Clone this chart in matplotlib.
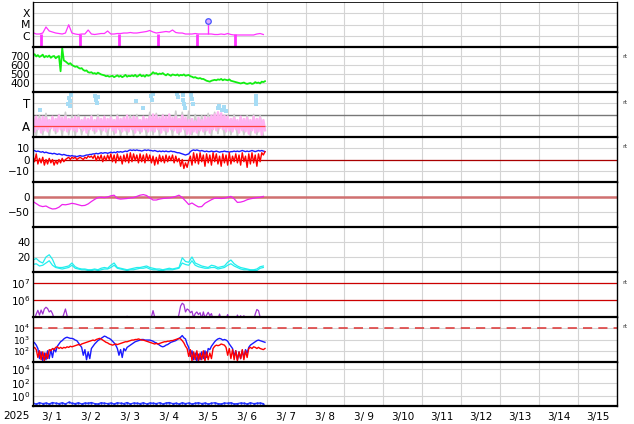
import numpy as np
import matplotlib
matplotlib.use("Agg")
import matplotlib.pyplot as plt
from matplotlib.ticker import NullLocator, FixedLocator

plt.rcParams['font.family'] = ['DejaVu Sans']

# ---- data (days since 2025-03-01 00UT) ----
# GOES X-ray, 2h steps, units of 1e-6 W/m2
xray = [1.87, 1.43, 1.43, 1.75, 6.0, 2.64, 2.15, 1.75, 1.58, 1.43, 1.75, 9.5,
        1.75, 1.43, 1.29, 1.43, 1.43, 3.24, 1.43, 1.29, 1.43, 1.58, 1.58, 2.64,
        1.43, 1.43, 1.58, 1.58, 1.75, 1.75, 1.94, 1.75, 1.75, 1.94, 2.15, 2.39,
        2.93, 2.15, 1.75, 1.94, 2.15, 2.39, 2.15, 3.24, 1.94, 1.75, 1.75, 1.43,
        1.43, 1.43, 1.58, 1.43, 1.43, 1.43, 1.43, 1.43, 1.29, 1.29, 1.43, 1.29,
        1.58, 1.29, 1.17, 1.17, 1.17, 1.17, 1.17, 1.17, 1.17, 1.43, 1.58, 1.29]
xray_gaps = [0.2, 1.2, 2.2, 3.2, 4.2, 5.2]
flare_day = 4.49
flare_peak = 2.0e-5

# solar wind speed, hourly (km/s)
speed = [705, 720, 695, 710, 690, 700, 715, 685, 700, 690, 705, 680, 695, 700, 675, 690, 700,
         530, 790,
         650, 640, 625, 610, 620, 600, 590, 580, 585, 570, 560, 565, 545, 535, 540, 520, 515, 520,
         505, 510, 500, 515, 505, 495, 490, 485, 475, 480, 470, 475,
         480, 465, 475, 485, 470, 480, 465, 475, 490, 470, 480, 475,
         485, 475, 490, 470, 480, 495, 475, 485, 470, 490, 480, 485,
         500, 520, 505, 510, 495, 505, 500, 510,
         495, 485, 500, 490, 480, 495, 490, 485, 495, 480, 490, 485, 495, 480, 485, 490,
         475, 470, 460, 465, 455, 450, 455, 445,
         445, 435, 425, 420, 415, 425, 430, 435,
         430, 440, 435, 445, 430, 440, 435, 430, 440, 425, 420, 415,
         410, 405, 400, 395, 400, 405, 395, 390, 395, 400, 390, 395,
         410, 400, 405, 395, 415, 410, 420]

# plasma panel (T / A index), hourly pink, 2h gray
plasma_a = [1.7, 0.5, 1.8, 0.7, 1.6, 0.4, 1.8, 0.6, 1.7, 0.5, 1.5, 0.8, 1.8, 0.6, 1.6, 0.5, 1.9, 0.7, 1.7, 0.6, 1.8, 0.5, 1.6, 0.7,
            1.6, 0.6, 1.8, 0.5, 1.7, 0.8, 1.5, 0.6, 1.7, 0.4, 1.6, 0.7, 1.8, 0.6, 1.5, 0.5, 1.7, 0.7, 1.6, 0.6, 1.8, 0.5, 1.6, 0.8,
            1.7, 0.6, 1.5, 0.4, 1.8, 0.7, 1.6, 0.5, 1.7, 0.6, 1.9, 0.5, 1.6, 0.7, 1.8, 0.4, 1.7, 0.6, 1.5, 0.5, 1.8, 0.7, 1.6, 0.5,
            1.8, 0.6, 2.0, 0.5, 1.9, 0.7, 1.7, 0.4, 1.9, 0.6, 1.8, 0.5, 2.0, 0.7, 1.7, 0.6, 1.8, 0.4, 1.6, 0.5, 1.9, 0.7, 1.7, 0.3,
            1.5, 0.3, 1.6, 0.5, 1.4, 0.4, 1.7, 0.6, 1.5, 0.5, 1.8, 0.6, 1.7, 0.4, 1.9, 0.7, 2.0, 0.6, 2.2, 0.8, 2.1, 0.7, 1.9, 0.5,
            1.8, 0.6, 1.6, 0.5, 1.7, 0.7, 1.5, 0.4, 1.8, 0.6, 1.6, 0.5, 1.7, 0.3, 1.5, 0.6, 1.8, 0.4, 1.6, 0.5, 1.7, 0.2, 1.5, 0.6]
plasma_gray = [2.0, 0.1, 1.9, 0.2, 2.1, 0.1, 1.8, 0.3, 2.0, 0.1, 2.2, 0.2, 1.9, 0.1, 2.0, 0.2, 1.8, 0.1,
               1.9, 0.3, 2.0, 0.2, 1.8, 0.1, 1.9, 0.2, 2.0, 0.1, 1.8, 0.2, 1.9, 0.1, 2.0, 0.3, 1.8, 0.1,
               2.2, 0.2, 2.1, 0.1, 2.0, 0.2, 1.9, 0.1, 2.3, 0.2, 2.2, 0.1, 2.3, 0.2, 2.0, 0.1, 1.9, 0.2,
               2.1, 0.1, 2.2, 0.3, 2.0, 0.1, 1.9, 0.2, 2.0, 0.1, 1.8, 0.2, 1.9, 0.1, 2.0, 0.2, 1.9, 0.1]
plasma_t_days = [0.18, 0.90, 0.92, 0.95, 0.95, 0.97, 1.59, 1.62, 1.64, 1.67, 2.64, 2.82, 3.03, 3.05, 3.08,
                 3.69, 3.72, 3.85, 3.85, 3.87, 3.90, 4.05, 4.08, 4.10, 4.74, 4.79, 4.85, 4.90, 4.95,
                 5.72, 5.74, 5.74]
plasma_t_vals = [2.4, 2.93, 3.47, 2.76, 3.2, 3.73, 3.64, 3.29, 3.02, 3.56, 3.2, 2.58, 3.64, 3.29, 3.82,
                 3.82, 3.56, 3.73, 3.29, 2.93, 2.58, 3.73, 3.38, 2.93, 2.58, 2.76, 2.4, 2.67, 2.31,
                 3.64, 3.29, 2.93]

# IMF Bt / Bz, hourly (nT)
bt = [7.5, 8, 7, 7.5, 7, 6.5, 7, 6, 6.5, 6, 5.5,
      5.5, 5, 5.5, 5, 4.5, 5, 4.5, 4, 4.5, 4,
      3.5, 3.5, 3, 3.5, 3, 3, 2.5, 3, 3.5, 3, 3, 3.5, 4, 4, 4.5, 4.5,
      5, 5, 5.5, 5, 5.5, 6, 5.5, 6, 6, 5.5, 6, 6.5,
      6, 6.5, 6, 7, 6.5, 7, 6.5, 7, 7.5, 7, 8, 8.5,
      8, 8.5, 8, 8.5, 8, 8, 7.5, 8, 8.5, 8, 8.5, 8,
      8, 7.5, 8, 7.5, 7, 7.5, 7, 7.5, 7, 7.5, 7, 7, 7.5, 7, 7, 6.5,
      6, 6, 5.5, 5, 4.5, 4, 4.5, 5,
      7, 8, 8.5, 8, 8.5, 8, 7.5, 8, 7.5, 7, 7.5, 7,
      7, 7.5, 7, 7, 7.5, 7, 6.5, 7, 7, 7.5, 7, 7, 6.5, 7, 7, 7.5,
      7, 7.5, 7, 7.5, 8, 7.5, 7, 7.5, 7, 7.5, 8, 7.5, 7, 7.5, 8, 7.5, 8, 7.5, 7]
bz = [3, -2, 5, -4, 1, -3, 2, -5, 0, -4, 1,
      -3, 0, -5, -1, -4, 0, -3, 1, -2, 0,
      1, 2, 0, 2, 1, 2, 0, 1, 2, 1, 0, 2, 1, 3, 2, 3,
      1, 4, -1, 3, 0, 4, -2, 3, -1, 4, 0, 5,
      -2, 4, -3, 5, -1, 3, -4, 4, -2, 5, -3, 6,
      -2, 5, -1, 4, -3, 5, -2, 4, -3, 5, -1, 4,
      -3, 3, -5, 2, -4, 4, -2, 3, -3, 4, -2, 3, -1, 4, -3, 3,
      -2, 1, -6, 0, -8, -3, -7, -1,
      3, -5, 6, -3, 5, -4, 6, -2, 4, -6, 5, -3,
      4, -5, 6, -2, 5, -4, 3, -6, 5, -3, 4, -5, 6, -4, 3, -2,
      5, -3, 4, -5, 6, -2, 3, -7, 5, -4, 6, -3, 4, -6, 5, -2, 6, 4, 7]

# Dst, 2h steps (nT)
dst = [-15, -22, -29, -32, -30, -36, -40, -39, -34, -25, -26, -24,
       -21, -23, -26, -29, -28, -23, -15, -8, -2, -1, -2, 0,
       4, 6, -5, -7, -6, -5, -3, -2, 2, 6, 8, 5,
       -3, -10, -10, -7, -5, -4, -3, -1, 2, 6, -2, -13,
       -25, -20, -27, -33, -32, -21, -15, -9, -4, -4, -5, -4,
       -1, 2, -6, -18, -17, -14, -9, -6, -4, -2, -1, 2]

# index panel, two stations, 2h steps
idx_a = [16, 18, 14, 12, 20, 23, 17, 7, 6, 6, 7, 8,
         12, 7, 5, 4, 4, 3, 3, 4, 3, 5, 6, 5,
         9, 12, 6, 5, 4, 3, 4, 5, 6, 6, 7, 8,
         6, 5, 4, 4, 3, 4, 5, 4, 5, 6, 19, 14,
         13, 20, 12, 10, 8, 7, 6, 9, 8, 6, 7, 8,
         13, 16, 11, 8, 6, 5, 4, 3, 3, 4, 7, 8]
idx_b = [10, 11, 8, 9, 12, 15, 9, 6, 5, 4, 5, 6,
         9, 5, 4, 3, 3, 2, 2, 3, 2, 3, 4, 4,
         6, 9, 5, 4, 3, 2, 3, 3, 4, 5, 5, 6,
         4, 3, 3, 2, 2, 3, 3, 3, 4, 5, 12, 10,
         9, 15, 9, 7, 6, 5, 5, 6, 6, 4, 5, 6,
         9, 11, 8, 6, 4, 3, 3, 2, 2, 2, 5, 6]

# electrons, hourly, units of 1e5
elec = [0.6, 0.8, 1.5, 2.5, 1.3, 2.6, 1.5, 3.0, 3.8, 3.2, 2.0, 2.4, 1.6, 0.8, 0.6, 0.6, 0.6, 0.6, 0.8, 1.5, 3.0, 1.2, 0.6, 0.6,
        0.6, 0.6, 0.6, 0.6, 0.6, 0.6, 0.6, 0.6, 0.6, 0.6, 0.6, 0.6, 0.6, 0.6, 0.6, 0.6, 0.6, 0.6, 0.6, 0.6, 0.6, 0.6, 0.6, 0.6,
        0.6, 0.6, 0.6, 0.6, 0.6, 0.6, 0.6, 0.6, 0.6, 0.6, 1.1, 0.6, 0.6, 0.6, 0.6, 0.6, 0.6, 0.6, 0.6, 0.6, 0.6, 0.6, 0.6, 0.6,
        0.6, 1.0, 2.4, 1.0, 0.6, 0.6, 0.6, 0.6, 0.6, 0.6, 0.6, 0.6, 0.6, 0.6, 0.6, 0.6, 0.6, 0.6, 1.5, 4.5, 6.6, 5.5, 2.0, 3.0,
        2.6, 1.8, 2.2, 0.9, 1.6, 2.0, 1.4, 1.8, 0.8, 2.0, 0.9, 1.3, 1.9, 1.2, 1.6, 0.7, 0.6, 0.6, 0.8, 1.5, 0.7, 0.6, 0.6, 0.8,
        1.4, 0.7, 0.6, 0.6, 0.6, 0.6, 1.3, 0.8, 1.2, 0.7, 1.2, 0.6, 0.6, 0.6, 0.6, 0.6, 0.6, 1.5, 2.8, 2.4, 1.0, 0.6, 0.6, 0.6]

# particle flux, hourly, log10 values
flux_blue = [2.8, 2.7, 2.5, 2.2, 1.3, 1.9, 1.1, 1.8, 1.2, 2.0, 1.3, 2.1, 1.4, 2.2, 1.9, 2.4, 2.6, 2.8, 2.9, 3.05, 3.15, 3.2, 3.15, 3.1,
             3.1, 3.05, 2.95, 2.9, 2.7, 2.5, 2.3, 1.6, 2.1, 1.2, 1.9, 1.3, 2.2, 2.4, 2.6, 2.75, 2.9, 3.0, 3.1, 3.2, 3.3, 3.25, 3.15, 3.1,
             3.0, 2.85, 2.7, 2.5, 2.2, 1.6, 2.1, 1.4, 2.2, 2.0, 2.3, 2.4, 2.5, 2.6, 2.7, 2.8, 2.85, 2.9, 2.95, 3.0, 3.0, 2.95, 2.95, 2.95,
             2.95, 2.9, 2.85, 2.75, 2.7, 2.6, 2.5, 2.4, 2.35, 2.4, 2.5, 2.55, 2.65, 2.75, 2.8, 2.85, 2.9, 3.0, 3.1, 3.2, 3.35, 3.15, 3.05, 2.6,
             2.3, 1.5, 2.0, 1.2, 1.8, 1.1, 1.7, 1.2, 1.9, 1.3, 2.0, 1.4, 2.2, 2.1, 2.4, 2.6, 2.8, 2.95, 3.05, 3.1, 3.05, 2.95, 3.0, 2.95,
             2.85, 2.6, 2.4, 2.2, 1.5, 2.0, 1.2, 1.9, 1.3, 2.0, 1.4, 2.1, 1.8, 2.3, 2.5, 2.6, 2.7, 2.8, 2.9, 2.95, 2.9, 2.85, 2.8, 2.75]
flux_red = [2.2, 2.3, 2.1, 1.4, 2.0, 1.2, 1.9, 1.1, 1.8, 1.3, 2.1, 2.0, 2.2, 2.1, 2.3, 2.35, 2.2, 2.3, 2.2, 2.3, 2.25, 2.35, 2.3, 2.4,
            2.35, 2.4, 2.45, 2.5, 2.55, 2.5, 2.6, 2.65, 2.7, 2.75, 2.8, 2.85, 2.9, 2.95, 2.9, 3.0, 3.05, 3.1, 3.05, 2.95, 2.85, 2.75, 2.7, 2.6,
            2.55, 2.5, 2.55, 2.6, 2.55, 2.6, 2.65, 2.7, 2.75, 2.8, 2.8, 2.85, 2.9, 2.95, 2.95, 3.0, 3.0, 3.05, 3.0, 2.95, 2.95, 2.9, 2.85, 2.8,
            2.75, 2.7, 2.65, 2.6, 2.65, 2.6, 2.65, 2.7, 2.75, 2.8, 2.8, 2.85, 2.85, 2.9, 2.9, 2.95, 3.0, 3.05, 3.1, 3.05, 2.9, 2.7, 2.4, 2.2,
            1.5, 2.1, 1.1, 1.9, 1.2, 2.0, 1.1, 1.8, 1.2, 2.0, 1.1, 1.9, 1.2, 1.8, 1.3, 2.2, 2.4, 2.5, 2.45, 2.5, 2.6, 2.55, 2.5, 2.3,
            1.6, 2.2, 1.3, 2.1, 1.2, 2.0, 1.1, 1.9, 1.3, 2.1, 1.2, 2.0, 1.4, 2.2, 2.3, 2.2, 2.35, 2.3, 2.2, 2.3, 2.2, 2.15, 2.1, 2.2]

# bottom panel, 2h steps
low_flux = [0.10, 0.08, 0.12, 0.09, 0.11, 0.08, 0.13, 0.10, 0.09, 0.12, 0.08, 0.14,
            0.10, 0.09, 0.12, 0.08, 0.11, 0.10, 0.13, 0.09, 0.08, 0.12, 0.10, 0.09,
            0.11, 0.08, 0.12, 0.10, 0.09, 0.13, 0.08, 0.11, 0.10, 0.09, 0.12, 0.08,
            0.11, 0.10, 0.09, 0.12, 0.08, 0.11, 0.13, 0.09, 0.10, 0.08, 0.12, 0.09,
            0.11, 0.08, 0.10, 0.12, 0.09, 0.11, 0.08, 0.10, 0.12, 0.09, 0.08, 0.11,
            0.10, 0.12, 0.08, 0.09, 0.11, 0.10, 0.08, 0.12, 0.09, 0.10, 0.11, 0.09]

day_labels = [f"3/{d:2d}" for d in range(1, 16)]


def hours(vals, step):
    return np.arange(len(vals)) * step / 24.0


# ---- layout ----
W, H = 634, 424
fig = plt.figure(figsize=(W / 100, H / 100), dpi=100)
edges = [2, 47, 92, 137, 182, 227, 272, 317, 362, 406]
axes = []
for i in range(9):
    y0, y1 = edges[i], edges[i + 1]
    ax = fig.add_axes([33 / W, 1 - y1 / H, (617 - 33) / W, (y1 - y0) / H])
    ax.set_xlim(0, 15)
    ax.set_xticks(np.arange(0, 16))
    ax.xaxis.set_minor_locator(NullLocator())
    ax.tick_params(axis='x', which='both', length=0, labelbottom=False)
    ax.tick_params(axis='y', which='both', length=0, labelsize=7.5, pad=2)
    ax.grid(True, axis='both', color='#d4d4d4', lw=0.8)
    ax.set_axisbelow(True)
    for s in ('left', 'right'):
        ax.spines[s].set_linewidth(1.0)
    ax.spines['top'].set_linewidth(1.6 if i > 0 else 0.6)
    ax.spines['bottom'].set_visible(i == 8)
    ax.spines['bottom'].set_linewidth(1.6)
    axes.append(ax)

(ax_x, ax_v, ax_p, ax_b, ax_d, ax_k, ax_e, ax_f, ax_l) = axes

# X-ray
t = hours(xray, 2)
ax_x.set_yscale('log')
ax_x.set_ylim(1e-7, 1e-3)
ax_x.plot(t, np.array(xray) * 1e-6, color='#ff33ff', lw=0.9)
ax_x.vlines(xray_gaps, 1e-8, 1.4e-6, color='#ff33ff', lw=2)
ax_x.vlines(flare_day, 1.4e-6, flare_peak, color='#ff33ff', lw=1)
ax_x.plot([flare_day], [flare_peak], 'o', ms=4, mfc='#ddaaff', mec='#4455ff', mew=0.9)
ax_x.yaxis.set_major_locator(FixedLocator([1e-6, 1e-5, 1e-4]))
ax_x.yaxis.set_minor_locator(NullLocator())
ax_x.set_yticklabels(['C', 'M', 'X'], fontsize=7.8)

# speed
ax_v.set_ylim(300, 800)
ax_v.set_yticks([400, 500, 600, 700])
ax_v.plot(hours(speed, 1), speed, color='#11ee11', lw=1.3)

# plasma
ax_p.set_ylim(0, 4)
ax_p.set_yticks([1, 3])
ax_p.set_yticklabels(['A', 'T'], fontsize=8.5)
ax_p.axhline(2, color='#777777', lw=1)
ax_p.plot(hours(plasma_gray, 2), plasma_gray, color='#cccccc', lw=1.2)
ax_p.plot(hours(plasma_a, 1), plasma_a, color='#ffb3f2', lw=1.8)
ax_p.scatter(plasma_t_days, plasma_t_vals, s=7, marker='s', color='#a6dcf5', lw=0)
ax_p.hlines(1.0, 0, hours(plasma_a, 1)[-1], color='#ff4444', lw=0.9)

# IMF
ax_b.set_ylim(-20, 20)
ax_b.set_yticks([-10, 0, 10])
ax_b.axhline(0, color='#aa0000', lw=0.9)
ax_b.plot(hours(bt, 1), bt, color='#1a1aff', lw=1.0)
ax_b.plot(hours(bz, 1), bz, color='#ff0000', lw=1.0)

# Dst
ax_d.set_ylim(-100, 50)
ax_d.set_yticks([-50, 0])
ax_d.axhline(0, color='#d07070', lw=1.8)
ax_d.plot(hours(dst, 2), dst, color='#ee22ee', lw=0.9)

# index
ax_k.set_ylim(0, 60)
ax_k.set_yticks([20, 40])
ax_k.plot(hours(idx_a, 2), idx_a, color='#22eeee', lw=0.9)
ax_k.plot(hours(idx_b, 2), idx_b, color='#22eeee', lw=0.9)

# electrons
ax_e.set_yscale('log')
ax_e.set_ylim(1e5, 4.8e7)
ax_e.yaxis.set_major_locator(FixedLocator([1e6, 1e7]))
ax_e.yaxis.set_minor_locator(NullLocator())
ax_e.axhline(1e6, color='#cc0000', lw=0.9)
ax_e.axhline(1e7, color='#cc0000', lw=0.9)
ax_e.plot(hours(elec, 1), np.array(elec) * 1e5, color='#a033d0', lw=0.9)

# particle flux
ax_f.set_yscale('log')
ax_f.set_ylim(10, 1e5)
ax_f.yaxis.set_major_locator(FixedLocator([1e2, 1e3, 1e4]))
ax_f.yaxis.set_minor_locator(NullLocator())
ax_f.tick_params(axis='y', labelsize=6.5)
ax_f.axhline(1e4, color='#dd3333', lw=1.1, dashes=(6, 4))
ax_f.plot(hours(flux_blue, 1), 10 ** np.array(flux_blue), color='#1a1aff', lw=1.0)
ax_f.plot(hours(flux_red, 1), 10 ** np.array(flux_red), color='#ff0000', lw=1.0)

# bottom
ax_l.set_yscale('log')
ax_l.set_ylim(0.04, 1.1e5)
ax_l.yaxis.set_major_locator(FixedLocator([1e0, 1e2, 1e4]))
ax_l.yaxis.set_minor_locator(NullLocator())
ax_l.plot(hours(low_flux, 2), low_flux, color='#2233ff', lw=0.9, marker='.', ms=1.5)

ax_l.set_xticks(np.arange(0.5, 15, 1), minor=True)
ax_l.set_xticklabels(day_labels, minor=True)
ax_l.tick_params(axis='x', which='minor', labelbottom=True, labelsize=7.5, pad=4, length=0)
ax_l.grid(False, which='minor')
fig.text(16 / W, 1 - 416 / H, '2025', ha='center', va='center', fontsize=7.5)

for ax in (ax_v, ax_p, ax_b, ax_e, ax_f):
    ax.text(1.01, 1 - 10 / 45, 'rt', transform=ax.transAxes, fontsize=4.5,
            va='center', ha='left', color='#333333')

fig.savefig('out.png', dpi=100)
